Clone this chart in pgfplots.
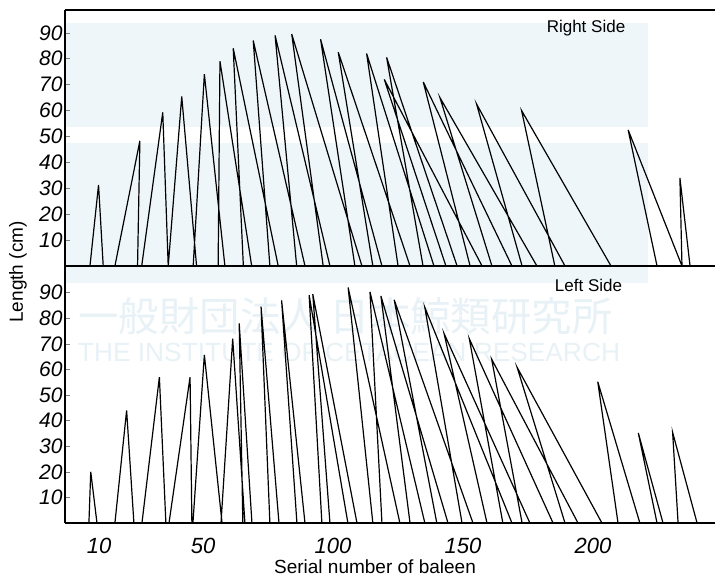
\documentclass[border=0pt]{standalone}
\usepackage{fontspec}
\setmainfont{Liberation Sans}
\setsansfont{Liberation Sans}
\newfontfamily\cjk{Noto Sans CJK JP}
\usepackage{graphicx}
\usepackage{pgfplots}
\pgfplotsset{compat=1.18}
\definecolor{wm}{RGB}{239,246,250}
\definecolor{wmtext}{RGB}{231,241,246}

\pgfplotsset{
  panel/.style={
    scale only axis, width=325pt,
    xmin=-3.1, xmax=246.9, ymin=0,
    axis y line=left,
    tick align=inside, major tick length=2.5pt,
    ytick={10,20,...,90},
    /pgf/number format/assume math mode=true,
    yticklabel style={font=\fontsize{10.5}{10.5}\selectfont\itshape, inner sep=1pt},
    xticklabel style={font=\fontsize{11}{11}\selectfont\itshape, yshift=-3pt},
    xtick style={draw=none},
  },
  flat/.style={axis line style={-, line width=0.9pt}},
  saw/.style={black, line width=0.6pt, unbounded coords=jump, mark=none},
}

\begin{document}
\begin{tikzpicture}[x=1pt,y=1pt]
\useasboundingbox (0,0) rectangle (357.5,288);
% pale watermark of the source scan
\fill[wm] (32.5,276.5) rectangle (324,224.5);
\fill[wm] (32.5,216.5) rectangle (324,146.5);
\node[text=wmtext, inner sep=0] at (172.75,130) {\resizebox{267pt}{!}{\cjk 一般財団法人\ 日本鯨類研究所}};
\node[text=wmtext, inner sep=0] at (174.5,112) {\resizebox{271pt}{!}{THE INSTITUTE OF CETACEAN RESEARCH}};

% Right side
\begin{axis}[panel, at={(32.5pt,155pt)}, anchor=south west,
  height=128pt, ymax=98.8, axis x line=box, xtick=\empty, flat]
\addplot[saw] coordinates {
 (6.5,0) (9.8,31.3) (11.6,0) (0,nan)
 (16.1,0) (25.7,48.3) (24.8,0) (0,nan)
 (26.4,0) (34.5,59.3) (36.6,0) (0,nan)
 (36.6,0) (41.8,65.4) (47.5,0) (0,nan)
 (46.2,0) (50.5,74) (58.4,0) (0,nan)
 (55.8,0) (56.5,79) (68.7,0) (0,nan)
 (65.5,0) (61.6,84) (78.9,0) (0,nan)
 (75.7,0) (69.3,87) (89.2,0) (0,nan)
 (86.0,0) (77.7,89) (98.8,0) (0,nan)
 (96.2,0) (84.1,89.5) (111.1,0) (0,nan)
 (108.4,0) (95.2,87.5) (118.8,0) (0,nan)
 (115.3,0) (102.0,82.5) (129.6,0) (0,nan)
 (125.0,0) (112.9,82) (138.8,0) (0,nan)
 (134.6,0) (120.6,80.5) (147.7,0) (0,nan)
 (143.4,0) (119.7,72) (157.3,0) (0,nan)
 (152.7,0) (134.7,71) (168.8,0) (0,nan)
 (161.1,0) (141.1,65) (178.4,0) (0,nan)
 (172.7,0) (155.2,62.5) (189.2,0) (0,nan)
 (185.3,0) (172.5,60) (206.9,0) (0,nan)
 (224.6,0) (213.5,52.5) (234.2,0) (0,nan)
 (234.2,0) (233.4,34) (237.3,0)
};
\end{axis}

% Left side
\begin{axis}[panel, at={(32.5pt,26.5pt)}, anchor=south west,
  height=128.5pt, ymax=100.4, axis x line=bottom,
  xtick={10,50,100,150,200}, flat]
\addplot[saw] coordinates {
 (6.1,0) (6.8,20) (9.2,0) (0,nan)
 (16.1,0) (20.6,44) (23.4,0) (0,nan)
 (26.5,0) (33.2,57) (35.7,0) (0,nan)
 (36.9,0) (45.0,57) (45.7,0) (0,nan)
 (46.1,0) (50.5,65.7) (57.3,0) (0,nan)
 (56.9,0) (61.4,72) (66.1,0) (0,nan)
 (65.3,0) (63.9,78) (68.8,0) (0,nan)
 (75.7,0) (72.3,84.5) (79.2,0) (0,nan)
 (86.1,0) (80.2,87) (89.2,0) (0,nan)
 (95.7,0) (90.8,89) (105.7,0) (0,nan)
 (98.8,0) (92.2,89.4) (109.2,0) (0,nan)
 (115.3,0) (105.8,92) (125.7,0) (0,nan)
 (118.8,0) (114.2,90.3) (135.3,0) (0,nan)
 (129.6,0) (118.4,88.7) (144.2,0) (0,nan)
 (139.9,0) (123.5,87.2) (153.8,0) (0,nan)
 (149.6,0) (135.3,84.2) (168.8,0) (0,nan)
 (159.2,0) (142.7,74) (175.7,0) (0,nan)
 (165.3,0) (152.4,72) (184.6,0) (0,nan)
 (172.7,0) (161.0,64) (194.2,0) (0,nan)
 (189.2,0) (170.8,60.8) (203.4,0) (0,nan)
 (209.6,0) (201.8,55.2) (218.0,0) (0,nan)
 (224.6,0) (217.4,35.2) (226.9,0) (0,nan)
 (232.7,0) (230.6,35.4) (240.0,0)
};
\end{axis}

\node[font=\fontsize{8.5}{8.5}\selectfont] at (293,274) {Right Side};
\node[font=\fontsize{8.5}{8.5}\selectfont] at (294.25,145.25) {Left Side};
\node[font=\fontsize{9.5}{9.5}\selectfont] at (187.5,4.5) {Serial number of baleen};
\node[font=\fontsize{9.5}{9.5}\selectfont, rotate=90] at (9,152) {Length (cm)};
\end{tikzpicture}
\end{document}
